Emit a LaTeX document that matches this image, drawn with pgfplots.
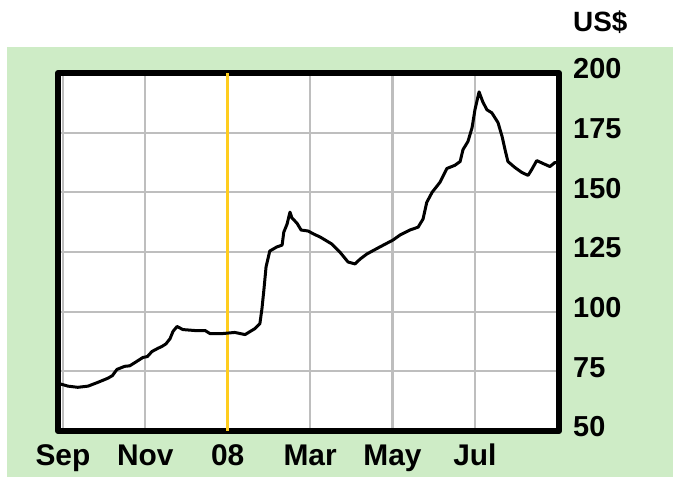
\documentclass[border=0pt]{standalone}
\usepackage{pgfplots}
\pgfplotsset{compat=1.18}
\usepackage{fontspec}
\setmainfont{Liberation Sans}
\definecolor{bggreen}{RGB}{206,236,198}
\definecolor{gridgray}{RGB}{190,190,190}
\definecolor{goldline}{RGB}{255,205,30}
\begin{document}
\begin{tikzpicture}
\fill[white] (0,0) rectangle (673bp,477bp);
\path[use as bounding box] (0,0) rectangle (673bp,477bp);
\fill[bggreen] (7bp,0) rectangle (673bp,430bp);
\begin{axis}[
  at={(58bp,46bp)}, anchor=south west,
  scale only axis, width=501bp, height=358bp,
  xmin=-0.12, xmax=12.04, ymin=50, ymax=200,
  axis background/.style={fill=white},
  axis line style={line width=6bp, line join=round, black},
  xtick={0,2,4,6,8,10},
  xticklabels={Sep,Nov,08,Mar,May,Jul},
  ytick={50,75,100,125,150,175,200},
  yticklabel pos=right,
  major tick length=0pt,
  grid=major,
  major grid style={draw=gridgray, line width=2.2bp},
  /pgf/number format/assume math mode=true,
  xticklabel style={font=\bfseries\fontsize{30}{32}\selectfont, inner sep=0pt, anchor=base, yshift=-35bp},
  yticklabel style={font=\bfseries\fontsize{29}{32}\selectfont, inner sep=0pt, anchor=west, xshift=14bp, yshift=4bp},
  clip=true,
]
\addplot[goldline, line width=2.5bp] coordinates {(4,50) (4,200)};
\addplot[black, line width=3bp, line join=round] coordinates {
(-0.12,70.0) (0.12,68.8) (0.36,68.3) (0.61,68.8) (0.85,70.4) (1.09,72.1) (1.20,73.2) (1.31,75.8) (1.50,77.1) (1.62,77.3) (1.75,78.7) (1.94,80.8) (2.05,81.2) (2.16,83.3) (2.30,84.6) (2.40,85.4) (2.50,86.5) (2.60,88.7) (2.67,91.7) (2.77,93.8) (2.91,92.5) (3.20,92.1) (3.45,92.1) (3.57,90.8) (3.86,90.8) (4.17,91.3) (4.42,90.4) (4.66,92.9) (4.78,95.0) (4.83,101.2) (4.88,109.6) (4.93,118.8) (5.02,125.4) (5.19,127.1) (5.32,127.9) (5.36,133.3) (5.44,136.7) (5.51,141.7) (5.56,139.2) (5.68,137.1) (5.78,134.2) (5.95,133.8) (6.10,132.4) (6.24,131.3) (6.53,128.3) (6.72,125.0) (6.92,120.8) (7.09,120.0) (7.21,122.0) (7.38,124.2) (7.69,127.1) (8.01,130.0) (8.18,132.1) (8.42,134.2) (8.62,135.4) (8.74,138.8) (8.83,145.8) (8.96,150.0) (9.15,154.2) (9.32,160.0) (9.51,161.3) (9.64,162.9) (9.71,167.9) (9.83,171.3) (9.93,177.1) (10.00,184.6) (10.10,192.1) (10.19,187.9) (10.29,184.6) (10.41,183.3) (10.56,179.2) (10.66,173.3) (10.73,167.9) (10.80,162.9) (10.97,160.4) (11.14,158.3) (11.29,157.1) (11.38,159.6) (11.50,163.3) (11.65,162.1) (11.82,160.8) (11.94,162.5) (12.10,162.0)
};
\end{axis}
\node[anchor=base west, inner sep=0pt, font=\bfseries\fontsize{28}{30}\selectfont] at (573bp,445bp) {US\$};
\end{tikzpicture}
\end{document}
